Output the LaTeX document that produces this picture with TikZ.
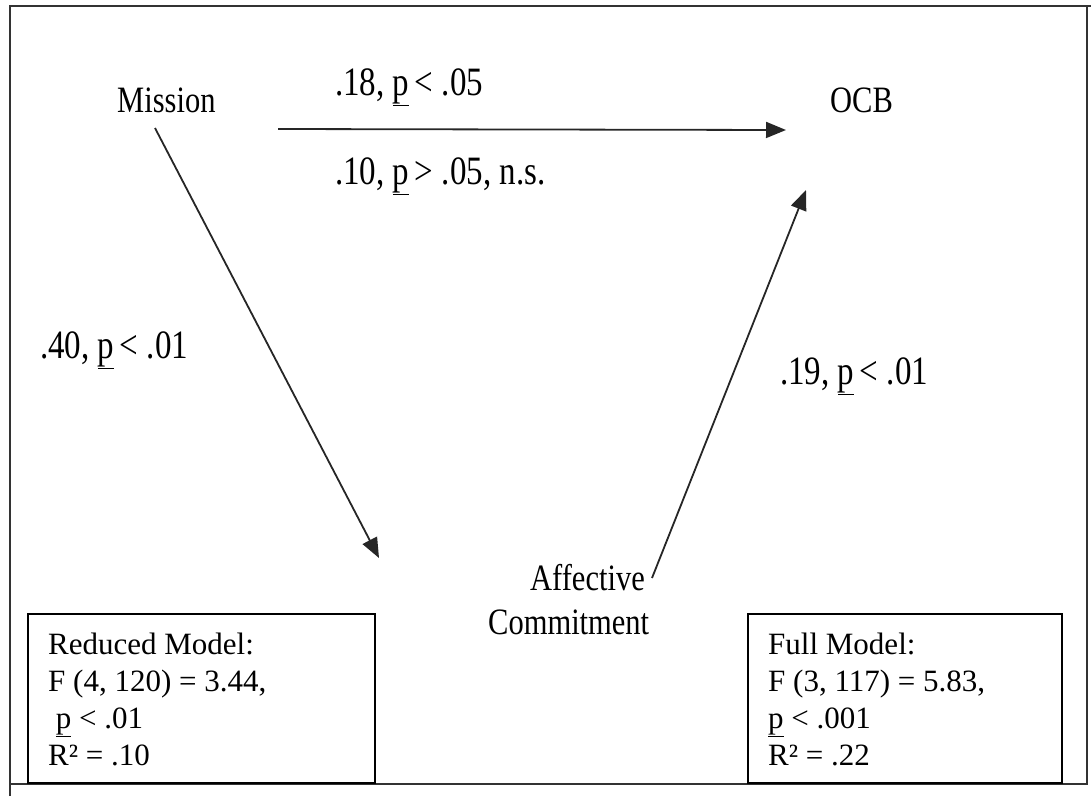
\documentclass[tikz,border=0pt]{standalone}
\usepackage{fontspec}
\setmainfont{Liberation Serif}
\usepackage{graphicx}
\usetikzlibrary{arrows.meta}

% tall label text (slightly stretched vertically)
\newcommand{\tall}[1]{\scalebox{1}[1.22]{#1}}

\begin{document}
\begin{tikzpicture}[x=1pt,y=-1pt,
  lbl/.style={inner sep=0pt,anchor=base west,font=\fontsize{30.5}{36}\selectfont},
  coef/.style={lbl,font=\fontsize{33}{38}\selectfont},
  boxtxt/.style={inner sep=0pt,anchor=base west,align=left,
    font=\fontsize{31}{37}\selectfont},
  frame/.style={draw=black!80,line width=2pt},
  modelbox/.style={draw=black,line width=1.6pt},
  arr/.style={draw=black!85,line width=1.8pt,
    -{Triangle[length=20pt,width=16pt]}}]
\useasboundingbox (0,0) rectangle (1091,796);

% outer frame
\draw[frame] (10,796) -- (10,6) -- (1091,6);
\draw[frame] (1087,6) -- (1087,784) -- (10,784);

% variables
\node[lbl] (mission) at (117,112) {\tall{Mission}};
\node[lbl] (ocb) at (830,112) {\tall{OCB}};
\node[lbl,align=left] (ac) at (488,634)
  {\tall{\hspace*{42pt}Affective}\\[8pt]\tall{Commitment}};

% path coefficients
\node[coef] (c1) at (335,95) {\tall{.18, \underline{p}\,< .05}};
\node[coef] (c2) at (335,184) {\tall{.10, \underline{p}\,> .05, n.s.}};
\node[coef] (c3) at (40,358) {\tall{.40, \underline{p}\,< .01}};
\node[coef] (c4) at (780,384) {\tall{.19, \underline{p}\,< .01}};

% connector end points
\coordinate (mo) at (278,129);
\coordinate (oi) at (786,130);
\coordinate (md) at (155,128);
\coordinate (ai) at (379,558);
\coordinate (ao) at (652,578);
\coordinate (ou) at (806,190);

\draw[arr] (mo) -- (oi);
\draw[arr] (md) -- (ai);
\draw[arr] (ao) -- (ou);

% model summaries
\draw[modelbox] (28,614) rectangle (375,783);
\node[boxtxt] (reduced) at (48,765)
  {Reduced Model:\\F (4, 120) = 3.44,\\\ \underline{p} < .01\\R² = .10};
\draw[modelbox] (748,614) rectangle (1062,783);
\node[boxtxt] (full) at (768,765)
  {Full Model:\\F (3, 117) = 5.83,\\\underline{p} < .001\\R² = .22};
\end{tikzpicture}
\end{document}
